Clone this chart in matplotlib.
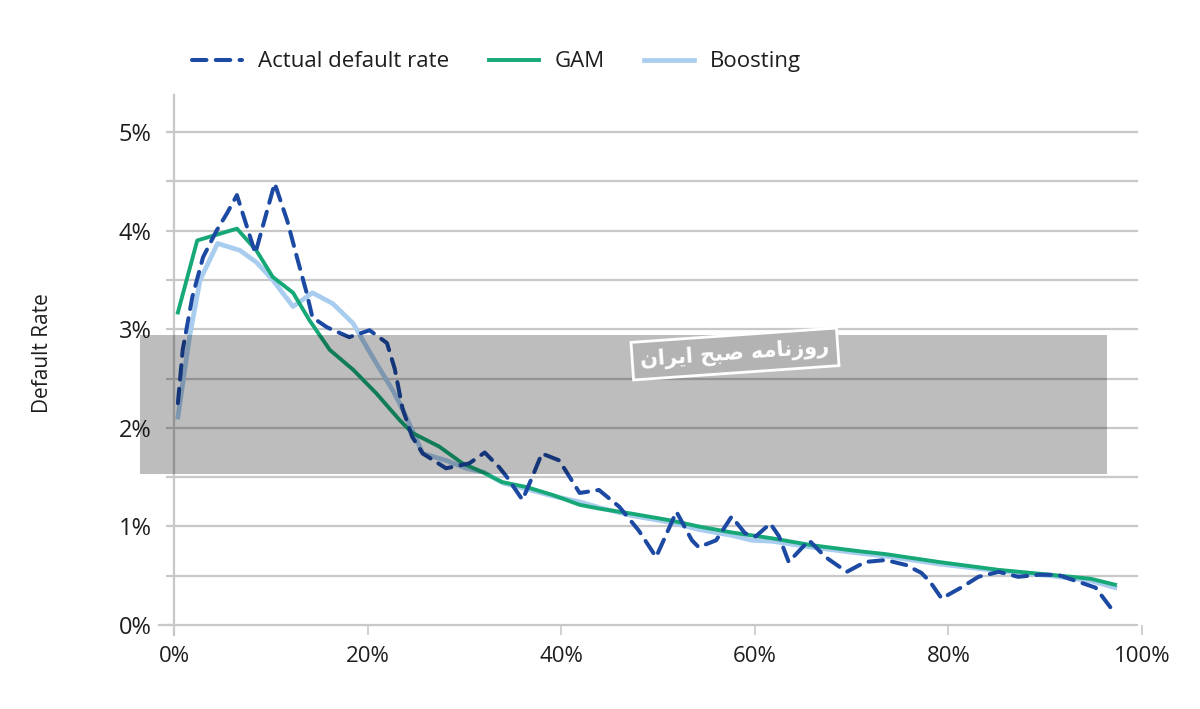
import numpy as np
import matplotlib.pyplot as plt
from matplotlib.patches import Rectangle
from matplotlib.ticker import FuncFormatter, MultipleLocator

plt.rcParams['font.family'] = ['Open Sans', 'DejaVu Sans']

# percentile of score (x, %) and default rate (y, %)
actual_x = [0.4, 0.9, 1.9, 3.0, 4.4, 5.5, 6.5, 8.4, 10.4, 11.7, 12.7, 13.7, 14.3, 15.8,
            18.1, 20.2, 22.0, 22.8, 23.6, 24.6, 25.7, 28.1, 30.5, 32.1, 33.6, 34.4,
            36.0, 37.0, 38.0, 39.8, 41.9, 43.9, 46.0, 48.0, 49.8, 51.9, 53.5, 54.2,
            56.0, 57.6, 59.0, 60.1, 61.6, 62.5, 63.5, 65.6, 67.3, 69.5, 71.4, 73.5,
            75.6, 77.2, 78.1, 79.3, 81.3, 83.1, 85.2, 87.2, 89.3, 91.3, 93.4, 95.2,
            96.2, 97.2]
actual_y = [2.25, 2.79, 3.33, 3.73, 4.00, 4.18, 4.36, 3.77, 4.48, 4.10, 3.73, 3.37, 3.12, 3.02,
            2.92, 2.99, 2.86, 2.60, 2.20, 1.91, 1.74, 1.59, 1.64, 1.75, 1.60, 1.50,
            1.27, 1.50, 1.74, 1.67, 1.34, 1.37, 1.20, 0.96, 0.69, 1.15, 0.86, 0.79,
            0.86, 1.10, 0.93, 0.90, 1.03, 0.90, 0.64, 0.86, 0.69, 0.54, 0.64, 0.66,
            0.61, 0.53, 0.44, 0.27, 0.38, 0.49, 0.54, 0.49, 0.51, 0.51, 0.44, 0.38,
            0.25, 0.12]

gam_x = [0.4, 2.4, 6.5, 8.5, 10.2, 12.3, 14.0, 16.1, 18.5, 20.9, 23.3, 24.6, 27.4, 29.8,
         31.9, 33.9, 36.4, 39.1, 41.9, 44.0, 47.3, 51.4, 54.2, 57.6, 61.8, 65.9, 70.7,
         73.5, 79.0, 85.2, 90.6, 94.7, 97.2]
gam_y = [3.17, 3.90, 4.02, 3.80, 3.53, 3.37, 3.09, 2.79, 2.59, 2.35, 2.08, 1.95, 1.81, 1.64,
         1.55, 1.45, 1.40, 1.32, 1.22, 1.18, 1.13, 1.06, 1.00, 0.94, 0.88, 0.81, 0.75,
         0.72, 0.64, 0.56, 0.51, 0.47, 0.41]

boost_x = [0.4, 1.6, 2.7, 4.5, 6.8, 8.5, 10.2, 12.3, 14.3, 16.4, 18.5, 20.5, 22.6, 23.3,
           24.6, 25.7, 28.1, 30.2, 32.0, 34.0, 36.4, 39.1, 41.9, 44.0, 47.3, 51.4, 54.2,
           57.6, 59.7, 61.8, 65.9, 70.7, 73.5, 79.0, 85.2, 90.6, 94.7, 97.2]
boost_y = [2.11, 2.92, 3.50, 3.87, 3.80, 3.68, 3.50, 3.23, 3.37, 3.26, 3.06, 2.72, 2.38, 2.25,
           1.98, 1.74, 1.67, 1.59, 1.55, 1.44, 1.38, 1.31, 1.25, 1.19, 1.11, 1.04, 0.97,
           0.91, 0.86, 0.85, 0.79, 0.73, 0.70, 0.62, 0.55, 0.50, 0.45, 0.38]

grid_c = '#c8c8c8'
dark_blue = '#1c4aa3'
green = '#17a877'
light_blue = '#a9cdee'
text_c = '#1e1e1e'

fig = plt.figure(figsize=(12, 7.09), dpi=100)
ax = fig.add_axes([0.145, 0.1044, 0.8067, 0.7616])
ax.set_xlim(0, 100)
ax.set_ylim(-0.1, 5.375)

for yv in np.arange(0.5, 5.01, 0.5):
    ax.axhline(yv, xmin=0, xmax=0.995, color=grid_c, lw=1.6, zorder=1)

ax.plot(boost_x, boost_y, color=light_blue, lw=3.4, zorder=3, label='Boosting',
        solid_joinstyle='round')
ax.plot(gam_x, gam_y, color=green, lw=2.8, zorder=4, label='GAM', solid_joinstyle='round')
ax.plot(actual_x, actual_y, color=dark_blue, lw=2.9, ls=(0, (3.6, 2.3)),
        zorder=5, label='Actual default rate', dash_capstyle='round')

for s in ['top', 'right']:
    ax.spines[s].set_visible(False)
ax.spines['left'].set_color(grid_c)
ax.spines['left'].set_linewidth(1.6)
ax.spines['bottom'].set_position(('data', 0))
ax.spines['bottom'].set_color(grid_c)
ax.spines['bottom'].set_linewidth(1.6)
ax.spines['bottom'].set_bounds(-1.5, 99.5)

ax.xaxis.set_major_locator(MultipleLocator(20))
ax.yaxis.set_major_locator(MultipleLocator(1))
ax.yaxis.set_minor_locator(MultipleLocator(0.5))
pct = FuncFormatter(lambda v, p: f'{v:.0f}%')
ax.xaxis.set_major_formatter(pct)
ax.yaxis.set_major_formatter(pct)
ax.tick_params(axis='x', length=7, width=1.2, color=grid_c, pad=8, labelsize=16)
ax.tick_params(axis='y', which='both', length=6, width=1.6, color=grid_c, pad=10, labelsize=17)
for t in ax.get_xticklabels() + ax.get_yticklabels():
    t.set_color(text_c)

fig.text(42 / 1200, 0.502, 'Default Rate', rotation=90, ha='center', va='center',
         fontsize=15, color=text_c)

h, l = ax.get_legend_handles_labels()
order = [2, 1, 0]
leg = fig.legend([h[i] for i in order], [l[i] for i in order], loc='center left',
                 bbox_to_anchor=(0.16, 0.9126), ncol=3, frameon=False, fontsize=16,
                 handlelength=2.25, handletextpad=0.7, columnspacing=1.8,
                 borderaxespad=0, borderpad=0)
for t in leg.get_texts():
    t.set_color(text_c)

# watermark band overlay
fig.patches.append(Rectangle((140 / 1200, 1 - 474 / 709), 967 / 1200, 139 / 709,
                             transform=fig.transFigure, facecolor='black', alpha=0.26,
                             edgecolor='none', zorder=10))
fig.text(735 / 1200, 1 - 354 / 709, 'ﻥﺍﺮﻳﺍ ﺢﺒﺻ ﻪﻣﺎﻧﺯﻭﺭ', family=['DejaVu Sans'],
         color='white', fontsize=15, fontweight='bold', rotation=4, ha='center', va='center',
         zorder=11,
         bbox=dict(boxstyle='square,pad=0.4', fc='#b3b3b3', ec='white', lw=2))

fig.savefig('out.png', dpi=100)
